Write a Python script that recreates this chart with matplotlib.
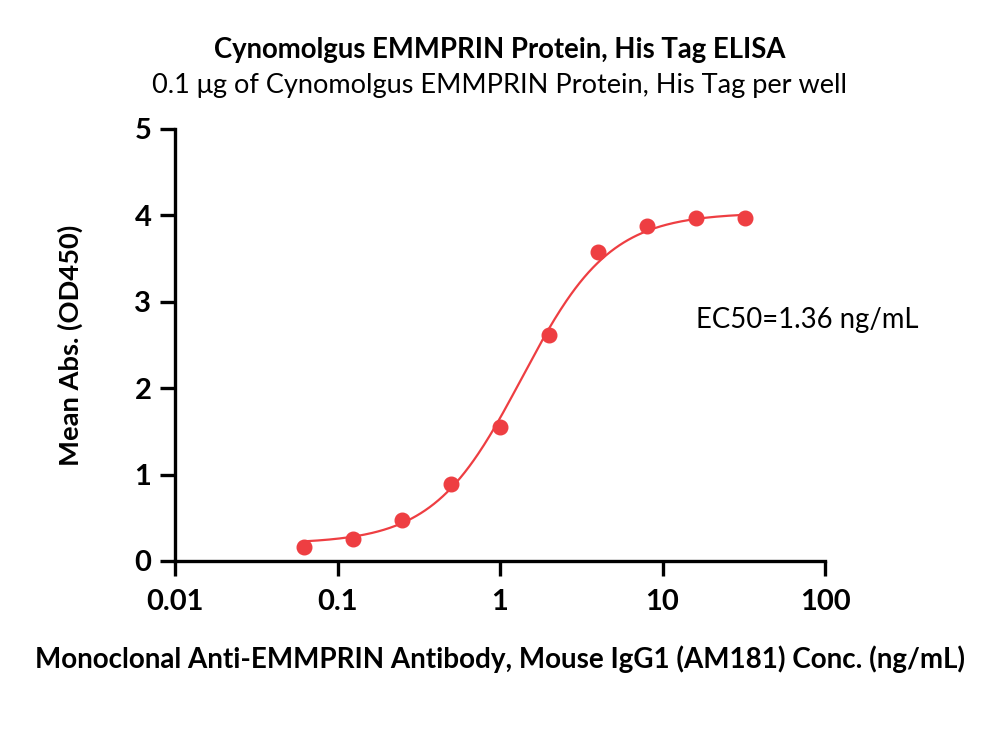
import numpy as np
import matplotlib
matplotlib.use("Agg")
import matplotlib.pyplot as plt
from matplotlib.ticker import FixedLocator, FixedFormatter, NullLocator

# antibody concentration (ng/mL) and mean absorbance at 450 nm
conc = [0.0625, 0.125, 0.25, 0.5, 1, 2, 4, 8, 16, 32]
od450 = [0.16, 0.25, 0.47, 0.89, 1.55, 2.62, 3.58, 3.88, 3.97, 3.97]

# 4PL fit parameters
fit_bottom = 0.20
fit_top = 4.03
fit_ec50 = 1.36
fit_hill = 1.6

x_ticks = [0.01, 0.1, 1, 10, 100]
x_tick_labels = ["0.01", "0.1", "1", "10", "100"]
y_ticks = [0, 1, 2, 3, 4, 5]

red = "#ee3e42"
plt.rcParams['font.family'] = ['Lato', 'DejaVu Sans']

fig = plt.figure(figsize=(10, 7.45), dpi=100)
ax = fig.add_axes([0.175, 0.247, 0.65, 0.58])

# fitted curve
xs = np.logspace(np.log10(conc[0]), np.log10(conc[-1]), 300)
ys = fit_bottom + (fit_top - fit_bottom) / (1 + (fit_ec50 / xs) ** fit_hill)
ax.plot(xs, ys, color=red, lw=1.6, zorder=2)
ax.plot(conc, od450, "o", color=red, ms=10.5, zorder=3, clip_on=False)

ax.set_xscale("log")
ax.set_xlim(0.01, 100)
ax.set_ylim(0, 5)
ax.xaxis.set_major_locator(FixedLocator(x_ticks))
ax.xaxis.set_major_formatter(FixedFormatter(x_tick_labels))
ax.xaxis.set_minor_locator(NullLocator())
ax.set_yticks(y_ticks)

for s in ["top", "right"]:
    ax.spines[s].set_visible(False)
for s in ["left", "bottom"]:
    ax.spines[s].set_linewidth(2.4)
ax.tick_params(width=2.4, length=11, labelsize=21, pad=6)
ax.tick_params(axis="x", pad=9)
for lbl in ax.get_xticklabels() + ax.get_yticklabels():
    lbl.set_fontweight("bold")

ax.set_ylabel("Mean Abs. (OD450)", fontsize=19.7, fontweight="bold", labelpad=37)
ax.set_xlabel("Monoclonal Anti-EMMPRIN Antibody, Mouse IgG1 (AM181) Conc. (ng/mL)",
              fontsize=20, fontweight="bold", labelpad=22)

fig.text(0.5, 0.933, "Cynomolgus EMMPRIN Protein, His Tag ELISA",
         ha="center", va="center", fontsize=19.8, fontweight="bold")
fig.text(0.5, 0.885, "0.1 \u03bcg of Cynomolgus EMMPRIN Protein, His Tag per well",
         ha="center", va="center", fontsize=19.5)
ax.text(0.972, 0.558, "EC50=1.36 ng/mL", transform=ax.transAxes,
        ha="center", va="center", fontsize=19.8)

fig.savefig("out.png", dpi=100)
